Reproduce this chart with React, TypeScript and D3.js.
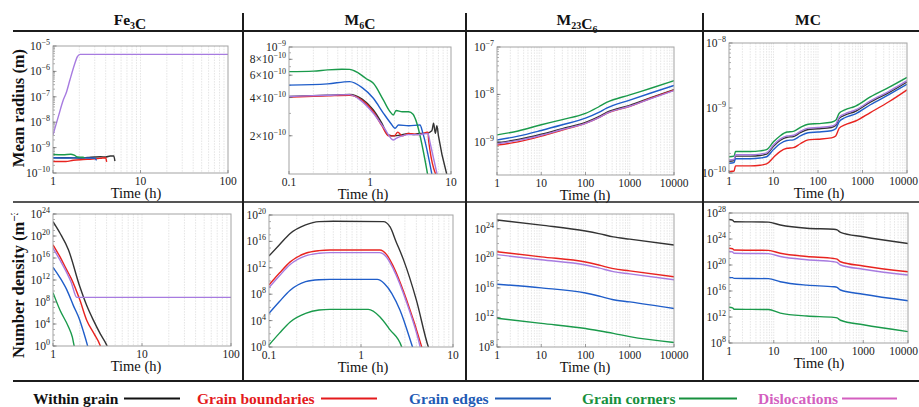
import React from 'react';
import * as d3 from 'd3';

type Pt = [number, number]; // [time (h), log10(value)]

// ---------- Fe3C : mean radius (log10 m) ----------
const fe3cRadWithin: Pt[] = [[1, -9.40], [1.5, -9.40], [2, -9.41], [2.5, -9.39], [3, -9.37], [3.5, -9.36], [4, -9.37], [4.5, -9.33], [4.95, -9.33], [5.1, -9.53]];
const fe3cRadBoundary: Pt[] = [[1, -9.55], [1.4, -9.55], [1.7, -9.50], [2.2, -9.47], [2.8, -9.45], [3.5, -9.42], [4.0, -9.40], [4.1, -9.56]];
const fe3cRadEdge: Pt[] = [[1, -9.40], [1.5, -9.41], [2, -9.40], [2.5, -9.41], [3, -9.42], [3.15, -9.50]];
const fe3cRadCorner: Pt[] = [[1, -9.27], [1.3, -9.28], [1.6, -9.26], [1.75, -9.30], [1.9, -9.37], [2.2, -9.38], [2.3, -9.41]];
const fe3cRadDisloc: Pt[] = [[1, -8.5], [1.15, -7.78], [1.31, -7.13], [1.43, -6.8], [1.56, -6.34], [1.78, -5.68], [1.9, -5.42], [2.04, -5.33], [100, -5.33]];

// ---------- Fe3C : number density (log10 m^-3) ----------
const fe3cNdWithin: Pt[] = [[1, 22.6], [1.2, 20.5], [1.49, 17.5], [2.0, 10.8], [2.4, 7.3], [2.84, 4.7], [3.4, 2.2], [4.0, 0.2], [4.2, -0.6]];
const fe3cNdBoundary: Pt[] = [[1, 18.4], [1.2, 16.2], [1.43, 13.8], [1.6, 12.3], [2.0, 8.4], [2.39, 4.7], [2.9, 2.2], [3.37, 0.2], [3.5, -0.6]];
const fe3cNdEdge: Pt[] = [[1, 14.3], [1.2, 12.4], [1.43, 10.2], [1.7, 7.3], [2.0, 4.7], [2.2, 2.6], [2.43, 0.2], [2.5, -0.6]];
const fe3cNdCorner: Pt[] = [[1, 9.7], [1.2, 6.5], [1.49, 3.5], [1.65, 1.6], [1.72, 0.2], [1.76, -0.6]];
const fe3cNdDisloc: Pt[] = [[1, 17.8], [1.2, 15.6], [1.43, 13.3], [1.6, 11.6], [1.85, 8.85], [100, 8.85]];

// ---------- M6C : mean radius ----------
const m6cRadWithin: Pt[] = [[0.1, -9.39], [0.3, -9.38], [0.56, -9.373], [0.8, -9.41], [1.1, -9.496], [1.4, -9.6], [1.68, -9.693], [2, -9.70], [2.5, -9.69], [3, -9.68], [3.5, -9.69], [4, -9.68], [5, -9.68], [5.8, -9.66], [6.1, -9.60], [6.4, -9.68], [6.7, -9.62], [7.0, -9.7], [9.3, -10.05]];
const m6cRadBoundary: Pt[] = [[0.1, -9.395], [0.3, -9.385], [0.56, -9.38], [0.8, -9.42], [1.1, -9.51], [1.4, -9.62], [1.7, -9.70], [2, -9.70], [2.2, -9.67], [2.5, -9.70], [3, -9.68], [4, -9.69], [5.2, -9.67], [5.3, -9.74], [7.0, -10.05]];
const m6cRadEdge: Pt[] = [[0.1, -9.30], [0.3, -9.29], [0.56, -9.273], [0.8, -9.32], [1.1, -9.404], [1.46, -9.52], [1.8, -9.6], [2.04, -9.64], [2.25, -9.614], [3, -9.62], [4.14, -9.614], [4.5, -9.68], [6.0, -10.05]];
const m6cRadCorner: Pt[] = [[0.1, -9.194], [0.2, -9.19], [0.3, -9.18], [0.45, -9.175], [0.56, -9.176], [0.7, -9.2], [0.9, -9.25], [1.1, -9.286], [1.46, -9.417], [1.77, -9.51], [1.94, -9.535], [2.1, -9.50], [2.5, -9.51], [3.0, -9.51], [3.4, -9.53], [3.6, -9.56], [5.3, -10.05]];
const m6cRadDisloc: Pt[] = [[0.1, -9.39], [0.3, -9.38], [0.56, -9.375], [0.8, -9.43], [1.1, -9.522], [1.5, -9.64], [1.94, -9.732], [2.1, -9.72], [2.5, -9.70], [3, -9.69], [4, -9.69], [5.2, -9.68], [5.5, -9.75], [7.0, -10.05]];

// ---------- M6C : number density ----------
const m6cNdWithin: Pt[] = [[0.1, 13.8], [0.13, 15.5], [0.17, 17.2], [0.25, 18.5], [0.35, 19.0], [0.5, 19.05], [1.75, 19.0], [2.07, 18.2], [2.4, 16.0], [2.9, 13.2], [4.0, 7.1], [5.4, 0], [5.6, -0.6]];
const m6cNdBoundary: Pt[] = [[0.1, 9.4], [0.13, 11.2], [0.17, 12.9], [0.25, 14.2], [0.35, 14.6], [0.46, 14.7], [1.6, 14.7], [1.9, 14.0], [2.25, 12.2], [3.14, 7.1], [4.57, 0], [4.7, -0.6]];
const m6cNdEdge: Pt[] = [[0.1, 5.1], [0.13, 6.9], [0.17, 8.6], [0.25, 9.9], [0.35, 10.2], [0.46, 10.25], [1.5, 10.25], [1.8, 9.6], [2.65, 5.6], [3.63, 0], [3.75, -0.6]];
const m6cNdCorner: Pt[] = [[0.1, 0.3], [0.13, 2.1], [0.17, 3.8], [0.25, 5.1], [0.35, 5.6], [0.46, 5.7], [1.2, 5.7], [1.6, 4.6], [2.07, 2.6], [2.77, 0], [2.85, -0.6]];
const m6cNdDisloc: Pt[] = [[0.1, 9.0], [0.13, 10.8], [0.17, 12.5], [0.25, 13.8], [0.35, 14.2], [0.46, 14.3], [1.6, 14.3], [1.9, 13.6], [2.25, 11.8], [3.14, 6.7], [4.4, 0], [4.5, -0.6]];

// ---------- M23C6 : mean radius ----------
const m23RadWithin: Pt[] = [[1, -9.02], [3, -8.95], [10, -8.84], [30, -8.72], [100, -8.59], [200, -8.47], [300, -8.38], [1000, -8.23], [3000, -8.07], [10000, -7.90]];
const m23RadBoundary: Pt[] = [[1, -9.07], [3, -9.00], [10, -8.88], [30, -8.75], [100, -8.61], [200, -8.49], [300, -8.40], [1000, -8.25], [3000, -8.08], [10000, -7.91]];
const m23RadEdge: Pt[] = [[1, -8.96], [3, -8.88], [10, -8.76], [30, -8.64], [100, -8.50], [200, -8.38], [300, -8.29], [1000, -8.12], [3000, -7.97], [10000, -7.81]];
const m23RadCorner: Pt[] = [[1, -8.853], [3, -8.77], [10, -8.64], [30, -8.53], [100, -8.40], [200, -8.26], [300, -8.17], [1000, -8.01], [3000, -7.87], [10000, -7.71]];
const m23RadDisloc: Pt[] = [[1, -9.04], [3, -8.97], [10, -8.86], [30, -8.74], [100, -8.61], [200, -8.49], [300, -8.40], [1000, -8.25], [3000, -8.09], [10000, -7.92]];

// ---------- M23C6 : number density ----------
const m23NdWithin: Pt[] = [[1, 25.2], [10, 24.5], [100, 23.7], [200, 23.35], [425, 22.9], [1000, 22.6], [10000, 21.8]];
const m23NdBoundary: Pt[] = [[1, 20.9], [10, 20.2], [100, 19.5], [200, 19.1], [425, 18.6], [1000, 18.3], [10000, 17.5]];
const m23NdEdge: Pt[] = [[1, 16.5], [10, 16.0], [100, 15.3], [200, 14.9], [425, 14.4], [1000, 14.1], [10000, 13.2]];
const m23NdCorner: Pt[] = [[1, 11.9], [10, 11.2], [100, 10.5], [200, 10.2], [425, 9.85], [1000, 9.4], [10000, 8.6]];
const m23NdDisloc: Pt[] = [[1, 20.5], [10, 19.8], [100, 19.1], [200, 18.7], [425, 18.2], [1000, 17.9], [10000, 17.1]];

// ---------- MC : mean radius ----------
const mcRadTimes = [1, 1.3, 1.4, 3, 5, 7, 10, 14, 20, 28, 40, 60, 100, 200, 250, 300, 400, 700, 1500, 4000, 10000];
const mcRadWithin = [-9.82, -9.81, -9.74, -9.74, -9.73, -9.71, -9.59, -9.50, -9.45, -9.44, -9.38, -9.33, -9.32, -9.30, -9.27, -9.16, -9.11, -9.05, -8.91, -8.76, -8.60];
const mcRadBoundary = [-9.98, -9.97, -9.89, -9.89, -9.88, -9.86, -9.76, -9.67, -9.62, -9.61, -9.55, -9.49, -9.48, -9.46, -9.43, -9.31, -9.26, -9.20, -9.07, -8.90, -8.72];
const mcRadEdge = [-9.85, -9.84, -9.78, -9.78, -9.77, -9.75, -9.64, -9.55, -9.50, -9.49, -9.43, -9.38, -9.37, -9.35, -9.32, -9.21, -9.15, -9.09, -8.95, -8.79, -8.635];
const mcRadCorner = [-9.75, -9.74, -9.67, -9.67, -9.66, -9.64, -9.52, -9.43, -9.37, -9.36, -9.30, -9.25, -9.24, -9.22, -9.19, -9.08, -9.03, -8.97, -8.83, -8.68, -8.53];
const mcRadDisloc = [-9.80, -9.79, -9.72, -9.72, -9.71, -9.69, -9.57, -9.48, -9.43, -9.42, -9.36, -9.31, -9.30, -9.28, -9.25, -9.14, -9.09, -9.03, -8.89, -8.74, -8.58];

// ---------- MC : number density ----------
const mcNdTimes = [1, 1.2, 1.3, 7.6, 14, 55, 220, 260, 310, 1000, 10000];
const mcNdWithin = [27.0, 26.9, 26.66, 26.6, 26.15, 25.65, 25.5, 25.4, 25.03, 24.35, 23.3];
const mcNdBoundary = [22.57, 22.5, 22.3, 22.25, 21.8, 21.3, 21.0, 20.9, 20.5, 19.85, 18.97];
const mcNdEdge = [18.1, 18.05, 17.95, 17.9, 17.43, 16.9, 16.65, 16.55, 16.15, 15.5, 14.5];
const mcNdCorner = [13.5, 13.4, 13.2, 13.15, 12.6, 12.15, 11.95, 11.85, 11.5, 10.8, 9.75];
const mcNdDisloc = [22.1, 22.0, 21.8, 21.75, 21.3, 20.8, 20.5, 20.4, 20.0, 19.35, 18.46];

// ---------- axes ----------
const phases = ['Fe3C', 'M6C', 'M23C6', 'MC'];
const xTicksFe3C = [1, 10, 100];
const xTicksM6C = [0.1, 1, 10];
const xTicksLong = [1, 10, 100, 1000, 10000];
const yTicksFe3CRad: [number, number][] = [[1, -10], [1, -9], [1, -8], [1, -7], [1, -6], [1, -5]];
const yTicksM6CRad: [number, number][] = [[2, -10], [4, -10], [6, -10], [8, -10], [1, -9]];
const yTicksM23Rad: [number, number][] = [[1, -9], [1, -8], [1, -7]];
const yTicksMCRad: [number, number][] = [[1, -10], [1, -9], [1, -8]];
const yTicksFe3CNd: [number, number][] = [[1, 0], [1, 4], [1, 8], [1, 12], [1, 16], [1, 20], [1, 24]];
const yTicksM6CNd: [number, number][] = [[1, 0], [1, 4], [1, 8], [1, 12], [1, 16], [1, 20]];
const yTicksM23Nd: [number, number][] = [[1, 8], [1, 12], [1, 16], [1, 20], [1, 24]];
const yTicksMCNd: [number, number][] = [[1, 8], [1, 12], [1, 16], [1, 20], [1, 24], [1, 28]];

const seriesNames = ['Within grain', 'Grain boundaries', 'Grain edges', 'Grain corners', 'Dislocations'];
const lineColors = ['#333333', '#e8231f', '#1f5dc9', '#1a9a4b', '#a77be0'];
const legendColors = ['#111111', '#e41a1c', '#1f5bb5', '#17903e', '#d45fbf'];

const zip = (t: number[], v: number[]): Pt[] => t.map((d, i) => [d, v[i]]);

const SERIF = '"Liberation Serif", "Times New Roman", serif';
const PAGE_W = 919;

type Box = { x0: number; x1: number; y0: number; y1: number };

function fmtExp(e: number) {
  return e < 0 ? '\u2212' + Math.abs(e) : String(e);
}

function Panel(props: {
  id: string; box: Box; xDomain: [number, number]; yDomain: [number, number];
  xTicks: number[]; yTicks: [number, number][]; series: Pt[][]; labelX: number;
}) {
  const { id, box, xDomain, yDomain, xTicks, yTicks, series, labelX } = props;
  const x = d3.scaleLog().domain(xDomain).range([box.x0, box.x1]);
  const y = d3.scaleLog().domain([Math.pow(10, yDomain[0]), Math.pow(10, yDomain[1])]).range([box.y1, box.y0]);
  const line = d3.line<Pt>().x(d => x(d[0])).y(d => y(Math.pow(10, d[1]))).curve(d3.curveMonotoneX);

  const grid: number[] = [];
  const lo = Math.floor(Math.log10(xDomain[0]));
  const hi = Math.ceil(Math.log10(xDomain[1]));
  for (let e = lo; e < hi; e++) {
    for (let k = 1; k < 10; k++) {
      const v = k * Math.pow(10, e);
      if (v > xDomain[0] * 1.001 && v < xDomain[1] * 0.999) grid.push(v);
    }
  }
  const ySpan = yDomain[1] - yDomain[0];
  const yMinor: number[] = [];
  if (ySpan <= 6) {
    for (let e = Math.floor(yDomain[0]); e < Math.ceil(yDomain[1]); e++) {
      for (let k = 1; k < 10; k++) {
        const v = Math.log10(k) + e;
        if (v > yDomain[0] && v < yDomain[1]) yMinor.push(Math.pow(10, v));
      }
    }
  } else {
    for (let e = Math.ceil(yDomain[0]); e <= yDomain[1]; e++) yMinor.push(Math.pow(10, e));
  }
  const tickFont = 11.5;

  return (
    <g>
      <defs>
        <clipPath id={id}>
          <rect x={box.x0} y={box.y0} width={box.x1 - box.x0} height={box.y1 - box.y0} />
        </clipPath>
      </defs>
      <rect x={box.x0} y={box.y0} width={box.x1 - box.x0} height={box.y1 - box.y0} fill="#fff" />
      {grid.map((v, i) => (
        <line key={i} x1={x(v)} x2={x(v)} y1={box.y0} y2={box.y1} stroke="#d4d4d4" strokeWidth={0.6} strokeDasharray="1.5,1.2" />
      ))}
      {yMinor.map((v, i) => (
        <line key={'m' + i} x1={box.x0} x2={box.x0 + 2} y1={y(v)} y2={y(v)} stroke="#777" strokeWidth={0.6} />
      ))}
      <g clipPath={`url(#${id})`}>
        {series.map((s, i) => (
          <path key={i} d={line(s) || ''} fill="none" stroke={lineColors[i]} strokeWidth={1.4} strokeLinejoin="round" />
        ))}
      </g>
      <rect x={box.x0} y={box.y0} width={box.x1 - box.x0} height={box.y1 - box.y0} fill="none" stroke="#a3a3a3" strokeWidth={1} />
      {xTicks.map((v, i) => {
        const tx = x(v);
        const label = String(v);
        const halfW = label.length * tickFont * 0.26;
        const overflow = tx + halfW > PAGE_W - 1;
        return (
          <g key={'x' + i}>
            <line x1={tx} x2={tx} y1={box.y1} y2={box.y1 - 3} stroke="#777" strokeWidth={0.7} />
            <text x={overflow ? PAGE_W - 1 : tx} y={box.y1 + 12} textAnchor={overflow ? 'end' : 'middle'} fontSize={tickFont} fontFamily={SERIF} fill="#222">{label}</text>
          </g>
        );
      })}
      {yTicks.map(([m, e], i) => {
        const yy = y(m * Math.pow(10, e));
        return (
          <g key={'y' + i}>
            <line x1={box.x0} x2={box.x0 + 3.5} y1={yy} y2={yy} stroke="#666" strokeWidth={0.7} />
            <text x={box.x0 - 3} y={yy + 4} textAnchor="end" fontSize={11.5} fontFamily={SERIF} fill="#222">
              {m === 1 ? '10' : `${m}\u00d710`}
              <tspan dy={-5} fontSize={8}>{fmtExp(e)}</tspan>
            </text>
          </g>
        );
      })}
      <text x={labelX} y={box.y1 + 25} textAnchor="middle" fontSize={14.5} fontFamily={SERIF} fill="#111">Time (h)</text>
    </g>
  );
}

function Title({ x, name }: { x: number; name: string }) {
  const parts: React.ReactNode[] = [];
  const re = /([A-Za-z]+)(\d*)/g;
  let mt: RegExpExecArray | null;
  let k = 0;
  while ((mt = re.exec(name)) !== null) {
    if (!mt[0]) break;
    parts.push(<tspan key={k++}>{mt[1]}</tspan>);
    if (mt[2]) {
      parts.push(<tspan key={k++} dy={4} fontSize={10}>{mt[2]}</tspan>);
      parts.push(<tspan key={k++} dy={-4}>{''}</tspan>);
    }
  }
  return (
    <text x={x} y={25} textAnchor="middle" fontSize={15.5} fontWeight="bold" fontFamily={SERIF} fill="#111">{parts}</text>
  );
}

export default function App() {
  const radiusSeries = {
    fe3c: [fe3cRadWithin, fe3cRadBoundary, fe3cRadEdge, fe3cRadCorner, fe3cRadDisloc],
    m6c: [m6cRadWithin, m6cRadBoundary, m6cRadEdge, m6cRadCorner, m6cRadDisloc],
    m23: [m23RadWithin, m23RadBoundary, m23RadEdge, m23RadCorner, m23RadDisloc],
    mc: [mcRadWithin, mcRadBoundary, mcRadEdge, mcRadCorner, mcRadDisloc].map(v => zip(mcRadTimes, v)),
  };
  const ndSeries = {
    fe3c: [fe3cNdWithin, fe3cNdBoundary, fe3cNdEdge, fe3cNdCorner, fe3cNdDisloc],
    m6c: [m6cNdWithin, m6cNdBoundary, m6cNdEdge, m6cNdCorner, m6cNdDisloc],
    m23: [m23NdWithin, m23NdBoundary, m23NdEdge, m23NdCorner, m23NdDisloc],
    mc: [mcNdWithin, mcNdBoundary, mcNdEdge, mcNdCorner, mcNdDisloc].map(v => zip(mcNdTimes, v)),
  };
  const titleX = [130, 360, 577, 808];
  const legendText = [33, 197, 409, 582, 758];
  const legendLine: [number, number][] = [[124, 180], [321, 377], [495, 551], [679, 737], [842, 897]];
  const tableStroke = '#1c1c1c';

  return (
    <svg width={919} height={407} viewBox="0 0 919 407" style={{ position: 'absolute', left: 0, top: 0, background: '#fff' }}>
      <rect x={0} y={0} width={919} height={407} fill="#fff" />
      {phases.map((p, i) => <Title key={p} x={titleX[i]} name={p} />)}

      <Panel id="c1" box={{ x0: 53, x1: 228, y0: 46, y1: 173 }} xDomain={[1, 100]} yDomain={[-10, -5]} xTicks={xTicksFe3C} yTicks={yTicksFe3CRad} series={radiusSeries.fe3c} labelX={136} />
      <Panel id="c2" box={{ x0: 289, x1: 451, y0: 47, y1: 174 }} xDomain={[0.1, 10]} yDomain={[-10, -9]} xTicks={xTicksM6C} yTicks={yTicksM6CRad} series={radiusSeries.m6c} labelX={363} />
      <Panel id="c3" box={{ x0: 497, x1: 674, y0: 47, y1: 175 }} xDomain={[1, 10000]} yDomain={[Math.log10(2e-10), -7]} xTicks={xTicksLong} yTicks={yTicksM23Rad} series={radiusSeries.m23} labelX={585} />
      <Panel id="c4" box={{ x0: 729, x1: 907, y0: 43, y1: 173 }} xDomain={[1, 10000]} yDomain={[-10, -8]} xTicks={xTicksLong} yTicks={yTicksMCRad} series={radiusSeries.mc} labelX={819} />

      <Panel id="c5" box={{ x0: 53, x1: 231, y0: 214, y1: 346 }} xDomain={[1, 100]} yDomain={[0, 24]} xTicks={xTicksFe3C} yTicks={yTicksFe3CNd} series={ndSeries.fe3c} labelX={136} />
      <Panel id="c6" box={{ x0: 269, x1: 453, y0: 215, y1: 347 }} xDomain={[0.1, 10]} yDomain={[0, 20]} xTicks={xTicksM6C} yTicks={yTicksM6CNd} series={ndSeries.m6c} labelX={363} />
      <Panel id="c7" box={{ x0: 497, x1: 674, y0: 214, y1: 347 }} xDomain={[1, 10000]} yDomain={[8, 26]} xTicks={xTicksLong} yTicks={yTicksM23Nd} series={ndSeries.m23} labelX={585} />
      <Panel id="c8" box={{ x0: 729, x1: 908, y0: 213, y1: 343 }} xDomain={[1, 10000]} yDomain={[8, 28]} xTicks={xTicksLong} yTicks={yTicksMCNd} series={ndSeries.mc} labelX={819} />

      {/* row labels */}
      <text transform="translate(24,108) rotate(-90)" textAnchor="middle" fontSize={16.5} fontWeight="bold" fontFamily={SERIF} fill="#111">Mean radius (m)</text>
      <defs>
        <clipPath id="ndclip"><rect x={0} y={213} width={45} height={170} /></clipPath>
      </defs>
      <g clipPath="url(#ndclip)">
        <text transform="translate(24,358) rotate(-90)" textAnchor="start" fontSize={16.5} fontWeight="bold" fontFamily={SERIF} fill="#111">
          Number density (m<tspan dy={-6} fontSize={11}>{'\u22123'}</tspan><tspan dy={6}>)</tspan>
        </text>
      </g>

      {/* table rules */}
      <line x1={13} x2={919} y1={31} y2={31} stroke={tableStroke} strokeWidth={2} />
      <line x1={13} x2={919} y1={202} y2={202} stroke={tableStroke} strokeWidth={1.6} />
      <line x1={13} x2={919} y1={381} y2={381} stroke={tableStroke} strokeWidth={2} />
      {[243, 466, 703].map(v => (
        <line key={v} x1={v} x2={v} y1={13} y2={381} stroke={tableStroke} strokeWidth={2} />
      ))}

      {/* legend */}
      {seriesNames.map((n, i) => (
        <g key={n}>
          <text x={legendText[i]} y={404} fontSize={15.5} fontWeight="bold" fontFamily={SERIF} fill={legendColors[i]}>{n}</text>
          <line x1={legendLine[i][0]} x2={legendLine[i][1]} y1={398.5} y2={398.5} stroke={legendColors[i]} strokeWidth={2} />
        </g>
      ))}
    </svg>
  );
}
